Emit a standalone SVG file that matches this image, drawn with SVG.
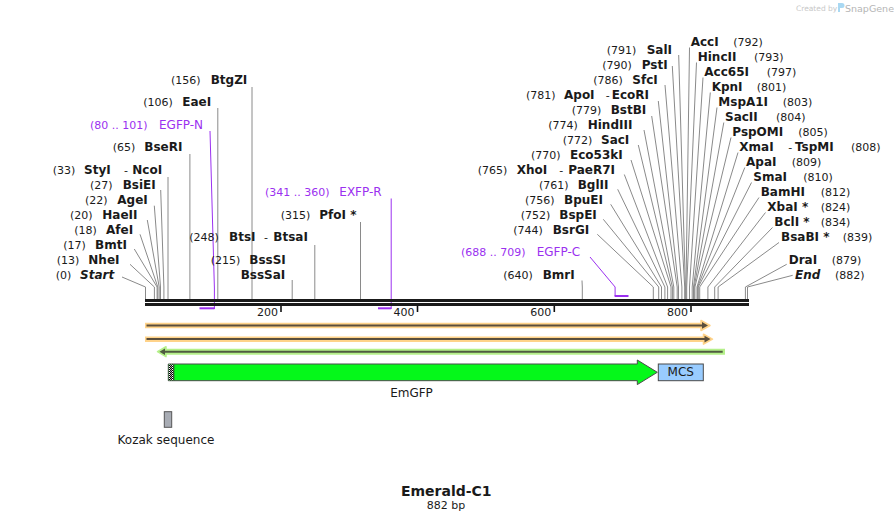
<svg xmlns="http://www.w3.org/2000/svg" width="894" height="522" viewBox="0 0 894 522">
<style>
text{font-family:"DejaVu Sans","Liberation Sans",sans-serif;fill:#1a1a1a}
.n{font-size:11px}
.b{font-size:12px;font-weight:bold}
.i{font-style:italic}
.p{font-size:11px;fill:#9B30F0}
.t{font-size:11px}
.c{fill:none;stroke:#8a8a8a;stroke-width:1}
.pc{fill:none;stroke:#9B30F0;stroke-width:1}
.pb{stroke:#9B30F0;stroke-width:2}
.f{font-size:12px}
</style>
<defs>
<pattern id="dots" width="2" height="2" patternUnits="userSpaceOnUse">
<rect width="2" height="2" fill="#fff"/>
<rect width="1" height="1" fill="#000"/>
<rect x="1" y="1" width="1" height="1" fill="#000"/>
</pattern>
</defs>
<rect width="894" height="522" fill="#fff"/>

<g id="watermark">
<text x="796" y="11" style="font-size:7.5px;fill:#c8c8c8">Created by</text>
<path d="M838,3 h4 a2.5,2.5 0 0 1 0,5 h-2 v4 h-2 z" fill="#a9d8f2"/>
<text x="845" y="11.5" style="font-size:9.5px;fill:#b5b5b5">SnapGene</text>
</g>

<g id="connectors">
<path class="c" d="M122,277 L145.5,287 V299"/>
<path class="c" d="M130,264.3 L154.4,287 V299"/>
<path class="c" d="M134.3,249 L157.1,287 V299"/>
<path class="c" d="M140,234.3 L157.8,287 V299"/>
<path class="c" d="M147.3,220 L159.2,287 V299"/>
<path class="c" d="M154.3,205.7 L160.5,287 V299"/>
<path class="c" d="M160.7,190 L163.9,287 V299"/>
<path class="c" d="M168,177 V299"/>
<path class="c" d="M189.9,154 V299"/>
<path class="c" d="M217.8,108 V299"/>
<path class="c" d="M252,87 V299"/>
<path class="c" d="M292.2,280 V299"/>
<path class="c" d="M314.8,245 V299"/>
<path class="c" d="M360.5,222 V299"/>
<path class="c" d="M582,280.5 L582.3,287 V299"/>
<path class="c" d="M597.3,234.3 L653.3,287 V299"/>
<path class="c" d="M603.3,219.3 L658.7,287 V299"/>
<path class="c" d="M610.7,204.3 L661.5,287 V299"/>
<path class="c" d="M617.7,189.3 L664.9,287 V299"/>
<path class="c" d="M624.3,174.5 L667.6,287 V299"/>
<path class="c" d="M631,160 L671,287 V299"/>
<path class="c" d="M638.3,145 L672.4,287 V299"/>
<path class="c" d="M644,130 L673.8,287 V299"/>
<path class="c" d="M651.7,116 L677.2,287 V299"/>
<path class="c" d="M658.3,101 L678.5,287 V299"/>
<path class="c" d="M665,85 L681.9,287 V299"/>
<path class="c" d="M672.3,66 L684.7,287 V299"/>
<path class="c" d="M678.7,55 L685.4,287 V299"/>
<path class="c" d="M689.5,47.5 L686,287 V299"/>
<path class="c" d="M696.5,62.5 L686.7,287 V299"/>
<path class="c" d="M703,77.5 L689.5,287 V299"/>
<path class="c" d="M710.3,92.5 L692.2,287 V299"/>
<path class="c" d="M717,107.5 L693.5,287 V299"/>
<path class="c" d="M723.8,122.5 L694.2,287 V299"/>
<path class="c" d="M731,137.5 L694.9,287 V299"/>
<path class="c" d="M738,152.5 L697,287 V299"/>
<path class="c" d="M744.8,167.5 L697.6,287 V299"/>
<path class="c" d="M751.5,182.5 L698.3,287 V299"/>
<path class="c" d="M759,197.5 L699.7,287 V299"/>
<path class="c" d="M765.5,212.5 L707.9,287 V299"/>
<path class="c" d="M772.5,227.5 L714.7,287 V299"/>
<path class="c" d="M779,242.5 L718.1,287 V299"/>
<path class="c" d="M786.7,264.3 L745.4,287 V299"/>
<path class="c" d="M792.7,275.3 L747.5,287 V299"/>
<path class="pc" d="M210,131 L214.4,288 V309"/>
<path class="pc" d="M391.2,198.5 V309"/>
<path class="pc" d="M590,257 L615.1,287 V296"/>
</g>

<g id="backbone">
<rect x="145" y="299" width="604" height="3" fill="#1a1a1a"/>
<rect x="145" y="303" width="604" height="3" fill="#1a1a1a"/>
<g stroke="#111" stroke-width="1.6">
<line x1="281" y1="306" x2="281" y2="312"/>
<line x1="417.5" y1="306" x2="417.5" y2="312"/>
<line x1="554.3" y1="306" x2="554.3" y2="312"/>
<line x1="691" y1="306" x2="691" y2="312"/>
</g>
<text class="t" x="278" y="315.5" text-anchor="end">200</text>
<text class="t" x="414.5" y="315.5" text-anchor="end">400</text>
<text class="t" x="551.3" y="315.5" text-anchor="end">600</text>
<text class="t" x="688" y="315.5" text-anchor="end">800</text>
</g>

<g id="primer-EGFP-N">
<line class="pb" x1="199.5" y1="308.3" x2="214.4" y2="308.3"/>
<text class="p" y="128.5"><tspan x="90">(80 .. 101)</tspan><tspan x="159" style="font-size:12px">EGFP-N</tspan></text>
</g>
<g id="primer-EXFP-R">
<line class="pb" x1="378" y1="308.3" x2="391.2" y2="308.3"/>
<text class="p" y="196"><tspan x="265">(341 .. 360)</tspan><tspan x="339.3" style="font-size:12px">EXFP-R</tspan></text>
</g>
<g id="primer-EGFP-C">
<line class="pb" x1="614.6" y1="296" x2="628.5" y2="296"/>
<text class="p" y="255.5"><tspan x="461">(688 .. 709)</tspan><tspan x="536.7" style="font-size:12px">EGFP-C</tspan></text>
</g>

<g id="site-Start"><text y="279"><tspan class="n" x="55.7">(0)</tspan><tspan class="b i" x="80">Start</tspan></text></g>
<g id="site-NheI"><text y="264"><tspan class="n" x="56.7">(13)</tspan><tspan class="b" x="88.3">NheI</tspan></text></g>
<g id="site-BmtI"><text y="249"><tspan class="n" x="63.3">(17)</tspan><tspan class="b" x="95">BmtI</tspan></text></g>
<g id="site-AfeI"><text y="234"><tspan class="n" x="74.3">(18)</tspan><tspan class="b" x="106">AfeI</tspan></text></g>
<g id="site-HaeII"><text y="219"><tspan class="n" x="70">(20)</tspan><tspan class="b" x="102.3">HaeII</tspan></text></g>
<g id="site-AgeI"><text y="204"><tspan class="n" x="85">(22)</tspan><tspan class="b" x="117.3">AgeI</tspan></text></g>
<g id="site-BsiEI"><text y="189"><tspan class="n" x="90">(27)</tspan><tspan class="b" x="122.7">BsiEI</tspan></text></g>
<g id="site-StyI"><text y="174"><tspan class="n" x="52.7">(33)</tspan><tspan class="b" x="84">StyI</tspan><tspan class="n" x="124">-</tspan><tspan class="b" x="132.3">NcoI</tspan></text></g>
<g id="site-BseRI"><text y="151"><tspan class="n" x="112.7">(65)</tspan><tspan class="b" x="144.3">BseRI</tspan></text></g>
<g id="site-EaeI"><text y="105.5"><tspan class="n" x="143.3">(106)</tspan><tspan class="b" x="182.3">EaeI</tspan></text></g>
<g id="site-BtgZI"><text y="84"><tspan class="n" x="171">(156)</tspan><tspan class="b" x="210.7">BtgZI</tspan></text></g>
<g id="site-BssSI"><text y="263.5"><tspan class="n" x="210.7">(215)</tspan><tspan class="b" x="249.3">BssSI</tspan></text><text class="b" x="240.7" y="278.5">BssSaI</text></g>
<g id="site-BtsI"><text y="241"><tspan class="n" x="189.3">(248)</tspan><tspan class="b" x="229">BtsI</tspan><tspan class="n" x="264">-</tspan><tspan class="b" x="273.3">BtsaI</tspan></text></g>
<g id="site-PfoI"><text y="218.5"><tspan class="n" x="280.7">(315)</tspan><tspan class="b" x="319.3">PfoI *</tspan></text></g>
<g id="site-BmrI"><text y="279"><tspan class="n" x="503.3">(640)</tspan><tspan class="b" x="542.7">BmrI</tspan></text></g>
<g id="site-BsrGI"><text y="234"><tspan class="n" x="513.3">(744)</tspan><tspan class="b" x="552.7">BsrGI</tspan></text></g>
<g id="site-BspEI"><text y="219"><tspan class="n" x="520.7">(752)</tspan><tspan class="b" x="559.3">BspEI</tspan></text></g>
<g id="site-BpuEI"><text y="204"><tspan class="n" x="525">(756)</tspan><tspan class="b" x="564">BpuEI</tspan></text></g>
<g id="site-BglII"><text y="189"><tspan class="n" x="539">(761)</tspan><tspan class="b" x="577.7">BglII</tspan></text></g>
<g id="site-XhoI"><text y="174"><tspan class="n" x="477.7">(765)</tspan><tspan class="b" x="516.7">XhoI</tspan><tspan class="n" x="559.3">-</tspan><tspan class="b" x="568.3">PaeR7I</tspan></text></g>
<g id="site-Eco53kI"><text y="159"><tspan class="n" x="531">(770)</tspan><tspan class="b" x="570">Eco53kI</tspan></text></g>
<g id="site-SacI"><text y="144"><tspan class="n" x="562.7">(772)</tspan><tspan class="b" x="601">SacI</tspan></text></g>
<g id="site-HindIII"><text y="129"><tspan class="n" x="548.3">(774)</tspan><tspan class="b" x="587.7">HindIII</tspan></text></g>
<g id="site-BstBI"><text y="114"><tspan class="n" x="571.7">(779)</tspan><tspan class="b" x="610.7">BstBI</tspan></text></g>
<g id="site-ApoI"><text y="99"><tspan class="n" x="526">(781)</tspan><tspan class="b" x="564">ApoI</tspan><tspan class="n" x="605.7">-</tspan><tspan class="b" x="611.7">EcoRI</tspan></text></g>
<g id="site-SfcI"><text y="84"><tspan class="n" x="593.3">(786)</tspan><tspan class="b" x="632.3">SfcI</tspan></text></g>
<g id="site-PstI"><text y="69"><tspan class="n" x="602.3">(790)</tspan><tspan class="b" x="641.7">PstI</tspan></text></g>
<g id="site-SalI"><text y="54"><tspan class="n" x="606.7">(791)</tspan><tspan class="b" x="646.7">SalI</tspan></text></g>
<g id="site-AccI"><text y="46"><tspan class="b" x="690.7">AccI</tspan><tspan class="n" x="733.3">(792)</tspan></text></g>
<g id="site-HincII"><text y="61"><tspan class="b" x="697.7">HincII</tspan><tspan class="n" x="754">(793)</tspan></text></g>
<g id="site-Acc65I"><text y="76"><tspan class="b" x="704.3">Acc65I</tspan><tspan class="n" x="766.7">(797)</tspan></text></g>
<g id="site-KpnI"><text y="91"><tspan class="b" x="711.7">KpnI</tspan><tspan class="n" x="756.7">(801)</tspan></text></g>
<g id="site-MspA1I"><text y="106"><tspan class="b" x="718.3">MspA1I</tspan><tspan class="n" x="782.7">(803)</tspan></text></g>
<g id="site-SacII"><text y="121"><tspan class="b" x="725">SacII</tspan><tspan class="n" x="776">(804)</tspan></text></g>
<g id="site-PspOMI"><text y="136"><tspan class="b" x="732.3">PspOMI</tspan><tspan class="n" x="798.3">(805)</tspan></text></g>
<g id="site-XmaI"><text y="151"><tspan class="b" x="739.3">XmaI</tspan><tspan class="n" x="788.3">-</tspan><tspan class="b" x="795">TspMI</tspan><tspan class="n" x="851">(808)</tspan></text></g>
<g id="site-ApaI"><text y="166"><tspan class="b" x="746">ApaI</tspan><tspan class="n" x="791.7">(809)</tspan></text></g>
<g id="site-SmaI"><text y="181"><tspan class="b" x="753.3">SmaI</tspan><tspan class="n" x="803.3">(810)</tspan></text></g>
<g id="site-BamHI"><text y="196"><tspan class="b" x="760.7">BamHI</tspan><tspan class="n" x="820.7">(812)</tspan></text></g>
<g id="site-XbaI"><text y="211"><tspan class="b" x="767.3">XbaI *</tspan><tspan class="n" x="820.7">(824)</tspan></text></g>
<g id="site-BclI"><text y="226"><tspan class="b" x="774.3">BclI *</tspan><tspan class="n" x="820.7">(834)</tspan></text></g>
<g id="site-BsaBI"><text y="241"><tspan class="b" x="781">BsaBI *</tspan><tspan class="n" x="842.7">(839)</tspan></text></g>
<g id="site-DraI"><text y="264"><tspan class="b" x="788.7">DraI</tspan><tspan class="n" x="831.7">(879)</tspan></text></g>
<g id="site-End"><text y="279"><tspan class="b i" x="795">End</tspan><tspan class="n" x="835">(882)</tspan></text></g>

<g id="orange-arrow-1">
<path d="M145,325.5 H702" stroke="#FFD38A" stroke-width="5.5" fill="none"/>
<path d="M701,320.5 L710,325.5 L701,330.5 Z" fill="#FFD38A" stroke="#FFD38A" stroke-width="1.5" stroke-linejoin="round"/>
<path d="M146.5,325.4 H703" stroke="#5A4E3C" stroke-width="2" fill="none"/>
<path d="M702,322 L708,325.4 L702,328.8 Z" fill="#5A4E3C"/>
</g>
<g id="orange-arrow-2">
<path d="M145,339.2 H704.5" stroke="#FFD38A" stroke-width="5.5" fill="none"/>
<path d="M703.5,334.2 L712.5,339.2 L703.5,344.2 Z" fill="#FFD38A" stroke="#FFD38A" stroke-width="1.5" stroke-linejoin="round"/>
<path d="M146.5,339.1 H705.5" stroke="#5A4E3C" stroke-width="2" fill="none"/>
<path d="M704.5,335.7 L710.5,339.1 L704.5,342.5 Z" fill="#5A4E3C"/>
</g>
<g id="green-arrow">
<path d="M164,351.7 H725" stroke="#B5F08A" stroke-width="6" fill="none"/>
<path d="M166,346.7 L157.5,351.7 L166,356.7 Z" fill="#B5F08A" stroke="#B5F08A" stroke-width="1.5" stroke-linejoin="round"/>
<path d="M163,351.7 H722.7" stroke="#4F5B40" stroke-width="2" fill="none"/>
<path d="M165,348.4 L159.5,351.7 L165,355 Z" fill="#4F5B40"/>
</g>

<g id="EmGFP">
<path d="M168.3,364 H637.3 V360 L657.3,372.3 L637.3,384.6 V380.7 H168.3 Z" fill="#05F81A" stroke="#4a4a4a" stroke-width="1"/>
<rect x="169" y="364.5" width="4.5" height="15.7" fill="url(#dots)"/>
<line x1="171" y1="364.5" x2="171" y2="380.2" stroke="#222" stroke-width="0.8"/>
<line x1="173.8" y1="364.3" x2="173.8" y2="380.4" stroke="#333" stroke-width="1"/>
<text class="f" x="411.5" y="397" text-anchor="middle">EmGFP</text>
</g>
<g id="MCS">
<rect x="658.3" y="364" width="45" height="16.7" fill="#99CCFF" stroke="#4a4a4a" stroke-width="1"/>
<text class="f" x="680.8" y="376.3" text-anchor="middle">MCS</text>
</g>
<g id="Kozak">
<rect x="164.3" y="411.7" width="7.4" height="15.6" fill="#A8ACB4" stroke="#555" stroke-width="1"/>
<text class="f" x="166" y="444" text-anchor="middle">Kozak sequence</text>
</g>

<g id="title">
<text x="446.3" y="496" text-anchor="middle" style="font-size:14px;font-weight:bold">Emerald-C1</text>
<text x="446" y="508.5" text-anchor="middle" style="font-size:11px">882 bp</text>
</g>
</svg>
